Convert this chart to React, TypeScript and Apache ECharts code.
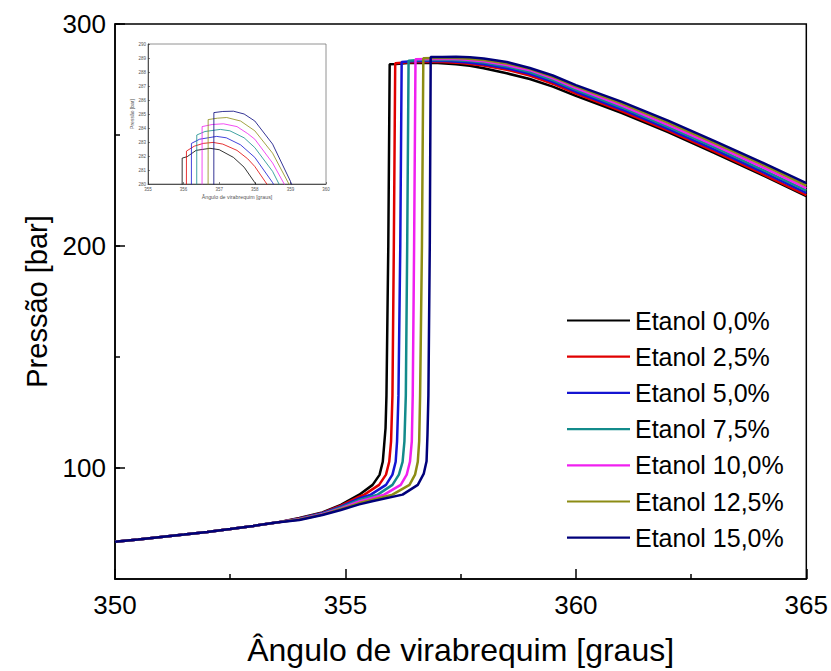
import { useEffect, useRef } from "react";
import * as echarts from "echarts";

// ---------- data ----------
const seriesNames = [
  "Etanol 0,0%",
  "Etanol 2,5%",
  "Etanol 5,0%",
  "Etanol 7,5%",
  "Etanol 10,0%",
  "Etanol 12,5%",
  "Etanol 15,0%",
];
const seriesColors = ["#000000", "#e00000", "#1414d2", "#138b8b", "#f020f0", "#8c8c14", "#00007a"];

// compression part common to all blends
const compressao: [number, number][] = [
  [350, 66.8], [350.5, 67.8], [351, 68.9], [351.5, 70.0], [352, 71.2],
  [352.5, 72.5], [353, 73.9], [353.5, 75.4],
];

const etanol00: [number, number][] = [
  [354, 77.5], [354.5, 80.0], [354.9, 83.4], [355.3, 88.0], [355.59, 92.4], [355.74, 96.9],
  [355.81, 102.8], [355.84, 110.3], [355.87, 117.9], [355.89, 132.6], [355.93, 200],
  [355.96, 281.85], [356.1, 281.95], [356.35, 282.4], [356.74, 282.55], [357.0, 282.45],
  [357.4, 281.9], [357.7, 281.2], [358, 280.1], [358.5, 277.8], [359, 275.2], [359.5, 271.8],
  [360, 267.6], [361, 259.9], [362, 251.3], [363, 242.0], [364, 232.4], [365, 222.5],
];
const etanol25: [number, number][] = [
  [354, 77.3], [354.5, 79.8], [354.9, 83.0], [355.3, 87.1], [355.41, 88.0], [355.73, 92.4],
  [355.88, 97.0], [355.95, 102.8], [355.99, 112.0], [356.02, 132.6], [356.05, 200],
  [356.08, 282.35], [356.3, 282.7], [356.55, 282.9], [356.83, 282.97], [357.1, 282.85],
  [357.5, 282.4], [357.8, 281.8], [358, 281.25], [358.5, 279.4], [359, 276.8], [359.5, 273.1],
  [360, 268.7], [361, 260.7], [362, 252.0], [363, 242.6], [364, 232.9], [365, 222.9],
];
const etanol50: [number, number][] = [
  [354, 77.2], [354.5, 79.6], [354.9, 82.6], [355.3, 86.3], [355.55, 88.0], [355.88, 92.4],
  [356.02, 97.0], [356.09, 102.8], [356.12, 112.0], [356.15, 132.6], [356.19, 200],
  [356.22, 282.9], [356.45, 283.2], [356.93, 283.4], [357.2, 283.3], [357.6, 282.8],
  [358, 281.9], [358.5, 280.1], [359, 277.6], [359.5, 273.9],
  [360, 269.5], [361, 261.5], [362, 252.8], [363, 243.5], [364, 233.9], [365, 223.9],
];
const etanol75: [number, number][] = [
  [354, 77.0], [354.5, 79.4], [354.9, 82.2], [355.3, 85.6], [355.7, 88.0], [356.02, 92.4],
  [356.16, 97.0], [356.24, 102.8], [356.28, 112.0], [356.31, 132.6], [356.34, 200],
  [356.37, 283.5], [356.6, 283.75], [357.03, 283.9], [357.3, 283.8], [357.7, 283.3],
  [358, 282.6], [358.5, 280.9], [359, 278.4], [359.5, 274.7],
  [360, 270.3], [361, 262.4], [362, 253.7], [363, 244.5], [364, 234.9], [365, 225.0],
];
const etanol100: [number, number][] = [
  [354, 76.9], [354.5, 79.2], [354.9, 81.8], [355.3, 84.9], [355.84, 88.0], [356.2, 92.4],
  [356.33, 97.0], [356.4, 102.8], [356.44, 112.0], [356.46, 132.6], [356.49, 200],
  [356.52, 284.1], [356.8, 284.25], [357.12, 284.3], [357.5, 284.1], [357.8, 283.6],
  [358, 283.2], [358.5, 281.5], [359, 279.2], [359.5, 275.5],
  [360, 271.1], [361, 263.2], [362, 254.6], [363, 245.5], [364, 236.0], [365, 226.1],
];
const etanol125: [number, number][] = [
  [354, 76.8], [354.5, 79.0], [354.9, 81.5], [355.3, 84.2], [356.02, 88.0], [356.39, 92.4],
  [356.51, 97.0], [356.57, 102.8], [356.6, 112.0], [356.62, 132.6], [356.66, 200],
  [356.69, 284.6], [356.95, 284.7], [357.21, 284.75], [357.6, 284.5], [358, 283.8],
  [358.5, 282.2], [359, 279.8], [359.5, 276.2],
  [360, 271.9], [361, 264.1], [362, 255.6], [363, 246.5], [364, 237.1], [365, 227.2],
];
const etanol150: [number, number][] = [
  [354, 76.6], [354.5, 78.8], [354.9, 81.1], [355.3, 83.6], [355.58, 85.0], [356.24, 88.0],
  [356.57, 92.4], [356.7, 97.5], [356.76, 103.0], [356.78, 115.0], [356.8, 132.6],
  [356.83, 200], [356.85, 285.1], [357.1, 285.18], [357.4, 285.2], [357.7, 285.0],
  [358, 284.5], [358.5, 282.85], [359, 280.2], [359.5, 276.8],
  [360, 272.5], [361, 264.9], [362, 256.5], [363, 247.4], [364, 238.0], [365, 228.3],
];

const blends = [etanol00, etanol25, etanol50, etanol75, etanol100, etanol125, etanol150];

const xTicks = { min: 350, max: 365, step: 5 };
const yTicks = { min: 50, max: 300, step: 50, major: [100, 200, 300] };
const insetX = { min: 355, max: 360, step: 1 };
const insetY = { min: 280, max: 290, step: 1 };

const FONT = "'Liberation Sans', Arial, Helvetica, sans-serif";

export default function App() {
  const ref = useRef<HTMLDivElement | null>(null);

  useEffect(() => {
    if (!ref.current) return;
    const chart = echarts.init(ref.current, null, { renderer: "svg" });

    const fullData = blends.map((b) => [...compressao, ...b]);

    const mainSeries = fullData.map((d, i) => ({
      name: seriesNames[i],
      type: "line",
      data: d,
      xAxisIndex: 0,
      yAxisIndex: 0,
      symbol: "none",
      showSymbol: false,
      silent: true,
      lineStyle: { width: 2.5, color: seriesColors[i] },
      itemStyle: { color: seriesColors[i] },
      z: 2 + i,
    }));
    const insetSeries = fullData.map((d, i) => ({
      name: seriesNames[i],
      type: "line",
      data: d,
      xAxisIndex: 1,
      yAxisIndex: 2,
      symbol: "none",
      showSymbol: false,
      silent: true,
      clip: true,
      lineStyle: { width: 0.8, color: seriesColors[i] },
      itemStyle: { color: seriesColors[i] },
      z: 20,
    }));

    const axisLine = { show: true, lineStyle: { color: "#000", width: 1.5 } };
    const insetAxisLine = { show: true, lineStyle: { color: "#333", width: 0.8 } };

    chart.setOption({
      animation: false,
      backgroundColor: "#ffffff",
      grid: [
        {
          left: 115, right: 23.5, top: 24, bottom: 85,
          show: true, borderColor: "#000", borderWidth: 1.5, backgroundColor: "transparent",
        },
        {
          left: 148, top: 44, width: 178, height: 140,
          show: true, borderColor: "#777", borderWidth: 0.8, backgroundColor: "#fff",
        },
      ],
      legend: {
        orient: "vertical",
        left: 562,
        top: 303,
        icon: "rect",
        itemWidth: 63,
        itemHeight: 2.2,
        itemGap: 11.2,
        data: seriesNames,
        selectedMode: false,
        textStyle: { fontFamily: FONT, fontSize: 25, color: "#000", lineHeight: 25 },
      },
      xAxis: [
        {
          type: "value",
          gridIndex: 0,
          min: xTicks.min,
          max: xTicks.max,
          interval: xTicks.step,
          name: "Ângulo de virabrequim [graus]",
          nameLocation: "middle",
          nameGap: 55,
          nameTextStyle: { fontFamily: FONT, fontSize: 32, color: "#000" },
          axisLine,
          axisTick: { show: true, inside: true, length: 10, lineStyle: { color: "#000", width: 1.5 } },
          minorTick: { show: true, splitNumber: 2, length: 5, lineStyle: { color: "#000", width: 1.5 } },
          axisLabel: { fontFamily: FONT, fontSize: 26, color: "#000", margin: 13 },
          splitLine: { show: false },
          minorSplitLine: { show: false },
        },
        {
          type: "value",
          gridIndex: 1,
          min: insetX.min,
          max: insetX.max,
          interval: insetX.step,
          name: "Ângulo de virabrequim [graus]",
          nameLocation: "middle",
          nameGap: 10,
          nameTextStyle: { fontFamily: FONT, fontSize: 5.3, color: "#555" },
          axisLine: insetAxisLine,
          axisTick: { show: true, inside: true, length: 2, lineStyle: { color: "#333", width: 0.6 } },
          axisLabel: { fontFamily: FONT, fontSize: 4.5, color: "#555", margin: 3 },
          splitLine: { show: false },
        },
      ],
      yAxis: [
        {
          type: "value",
          gridIndex: 0,
          position: "left",
          min: yTicks.min,
          max: yTicks.max,
          interval: yTicks.step,
          name: "Pressão [bar]",
          nameLocation: "middle",
          nameGap: 62,
          nameTextStyle: { fontFamily: FONT, fontSize: 29, color: "#000" },
          axisLine,
          axisTick: { show: true, inside: true, length: 5, lineStyle: { color: "#000", width: 1.5 } },
          axisLabel: {
            fontFamily: FONT,
            fontSize: 26,
            color: "#000",
            margin: 9,
            formatter: (v: number) => (yTicks.major.includes(v) ? String(v) : ""),
          },
          splitLine: { show: false },
        },
        {
          type: "value",
          gridIndex: 0,
          position: "left",
          min: yTicks.min,
          max: yTicks.max,
          axisLine: { show: false },
          axisLabel: { show: false },
          axisTick: {
            show: true,
            inside: true,
            length: 10,
            customValues: yTicks.major,
            lineStyle: { color: "#000", width: 1.5 },
          },
          splitLine: { show: false },
        },
        {
          type: "value",
          gridIndex: 1,
          min: insetY.min,
          max: insetY.max,
          interval: insetY.step,
          name: "Pressão [bar]",
          nameLocation: "middle",
          nameGap: 11,
          nameTextStyle: { fontFamily: FONT, fontSize: 5, color: "#555" },
          axisLine: insetAxisLine,
          axisTick: { show: true, inside: true, length: 2, lineStyle: { color: "#333", width: 0.6 } },
          axisLabel: { fontFamily: FONT, fontSize: 4.5, color: "#555", margin: 2 },
          splitLine: { show: false },
        },
      ],
      series: [...mainSeries, ...insetSeries],
    });

    return () => {
      chart.dispose();
    };
  }, []);

  return (
    <div
      ref={ref}
      style={{ position: "fixed", left: 0, top: 0, width: 831, height: 671, background: "#fff" }}
    />
  );
}
